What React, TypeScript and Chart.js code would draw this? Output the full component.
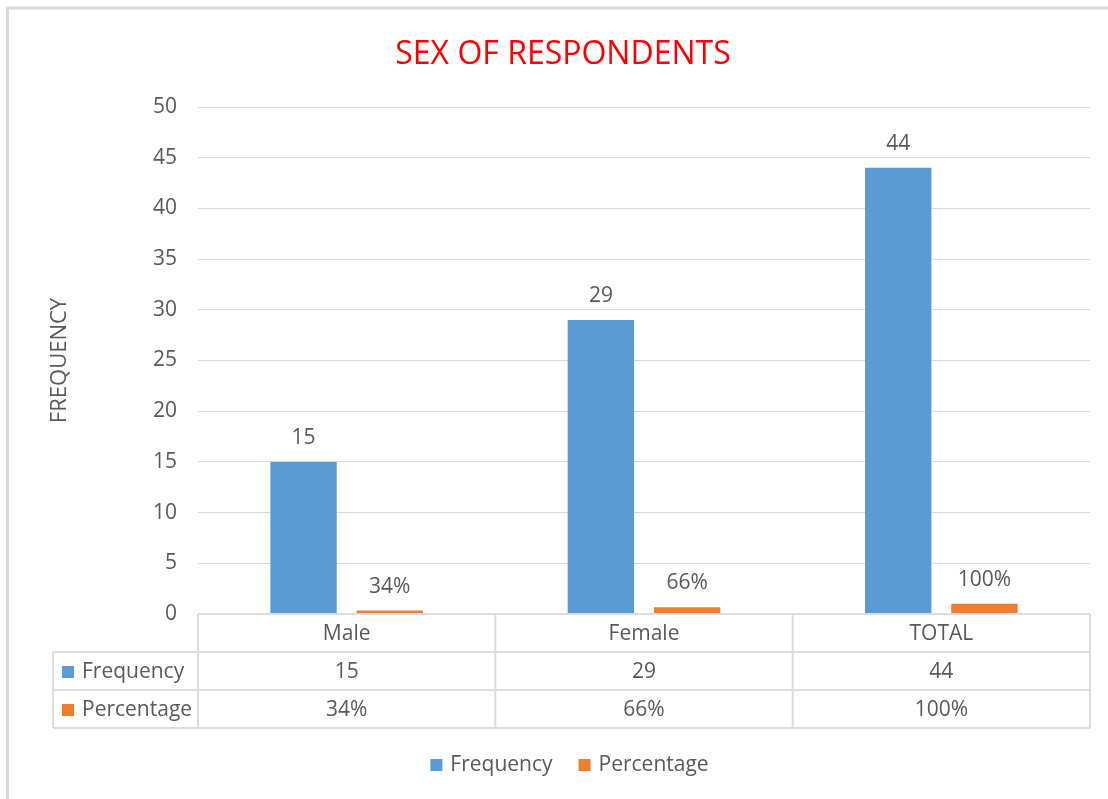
import React, { useEffect, useRef } from "react";
import { Chart, registerables } from "chart.js";

Chart.register(...registerables);

// ---- data ----
const categories = ["Male", "Female", "TOTAL"];
const seriesNames = ["Frequency", "Percentage"];
const frequency = [15, 29, 44];
const percentage = [0.34, 0.66, 1.0];
const yMin = 0;
const yMax = 50;
const yStep = 5;
const chartTitle = "SEX OF RESPONDENTS";
const yAxisTitle = "FREQUENCY";

// ---- style ----
const BLUE = "#5B9BD5";
const ORANGE = "#ED7D31";
const TEXT = "#595959";
const GRID = "#d9d9d9";
const TABLE_LINE = "#dcdcdc";
const FONT = "'Open Sans', 'DejaVu Sans', sans-serif";
const colors = [BLUE, ORANGE];
const formatters = [
  (v: number) => String(v),
  (v: number) => Math.round(v * 100) + "%",
];

const W = 1108;
const H = 799;

const decorPlugin = {
  id: "decor",
  beforeDraw(chart: any) {
    const ctx = chart.ctx;
    ctx.save();
    ctx.fillStyle = "#ffffff";
    ctx.fillRect(0, 0, chart.width, chart.height);
    ctx.strokeStyle = "#d9d9d9";
    ctx.lineWidth = 3;
    ctx.beginPath();
    ctx.moveTo(7.5, chart.height);
    ctx.lineTo(7.5, 8);
    ctx.lineTo(chart.width, 8);
    ctx.stroke();
    ctx.restore();
  },
  afterDatasetsDraw(chart: any) {
    const ctx = chart.ctx;
    ctx.save();
    ctx.font = `21px ${FONT}`;
    ctx.fillStyle = TEXT;
    ctx.textAlign = "center";
    ctx.textBaseline = "middle";
    chart.data.datasets.forEach((ds: any, di: number) => {
      const meta = chart.getDatasetMeta(di);
      meta.data.forEach((el: any, i: number) => {
        ctx.fillText(formatters[di](ds.data[i]), el.x, el.y - 24);
      });
    });
    ctx.restore();
  },
  afterDraw(chart: any) {
    const ctx = chart.ctx;
    const area = chart.chartArea;
    const xs = chart.scales.x;
    const top = area.bottom;
    const rowH = 38;
    const headLeft = 53;
    const left = area.left;
    const right = area.right;
    const n = categories.length;
    const bounds: number[] = [left];
    for (let i = 0; i < n - 1; i++) {
      bounds.push((xs.getPixelForValue(i) + xs.getPixelForValue(i + 1)) / 2);
    }
    bounds.push(right);
    const nRows = chart.data.datasets.length;
    const bottom = top + rowH * (nRows + 1);

    ctx.save();
    ctx.strokeStyle = TABLE_LINE;
    ctx.lineWidth = 2;
    ctx.beginPath();
    ctx.moveTo(left, top);
    ctx.lineTo(right, top);
    for (let r = 1; r <= nRows + 1; r++) {
      const y = top + rowH * r;
      ctx.moveTo(headLeft, y);
      ctx.lineTo(right, y);
    }
    bounds.forEach((b) => {
      ctx.moveTo(b, top);
      ctx.lineTo(b, bottom);
    });
    ctx.moveTo(headLeft, top + rowH);
    ctx.lineTo(headLeft, bottom);
    ctx.stroke();

    ctx.font = `21px ${FONT}`;
    ctx.fillStyle = TEXT;
    ctx.textBaseline = "middle";
    ctx.textAlign = "center";
    categories.forEach((c, i) => {
      ctx.fillText(c, xs.getPixelForValue(i), top + rowH / 2 + 1);
    });
    chart.data.datasets.forEach((ds: any, di: number) => {
      const yc = top + rowH * (di + 1) + rowH / 2 + 1;
      ctx.fillStyle = colors[di];
      ctx.fillRect(headLeft + 9, yc - 6, 12, 12);
      ctx.fillStyle = TEXT;
      ctx.textAlign = "left";
      ctx.fillText(ds.label, headLeft + 29, yc);
      ctx.textAlign = "center";
      ds.data.forEach((v: number, i: number) => {
        ctx.fillText(formatters[di](v), xs.getPixelForValue(i), yc);
      });
    });

    // legend
    const box = 12;
    const gap = 8;
    const spacing = 26;
    const widths = chart.data.datasets.map((ds: any) => ctx.measureText(ds.label).width);
    let total = 0;
    widths.forEach((w: number, i: number) => {
      total += box + gap + w + (i > 0 ? spacing : 0);
    });
    const legendCenter = (headLeft + right) / 2 - 2;
    const ly = 765;
    let lx = legendCenter - total / 2;
    ctx.textAlign = "left";
    chart.data.datasets.forEach((ds: any, di: number) => {
      ctx.fillStyle = colors[di];
      ctx.fillRect(lx, ly - 6, box, box);
      ctx.fillStyle = TEXT;
      ctx.fillText(ds.label, lx + box + gap, ly);
      lx += box + gap + widths[di] + spacing;
    });
    ctx.restore();
  },
};

export default function App() {
  const ref = useRef<HTMLCanvasElement | null>(null);

  useEffect(() => {
    if (!ref.current) return;
    const chart = new Chart(ref.current, {
      type: "bar",
      data: {
        labels: categories,
        datasets: [
          {
            label: seriesNames[0],
            data: frequency,
            backgroundColor: BLUE,
            categoryPercentage: 0.58,
            barPercentage: 0.77,
          },
          {
            label: seriesNames[1],
            data: percentage,
            backgroundColor: ORANGE,
            categoryPercentage: 0.58,
            barPercentage: 0.77,
          },
        ],
      },
      options: {
        responsive: false,
        animation: false,
        devicePixelRatio: 1,
        layout: { padding: { left: 36, right: 18, top: 0, bottom: 71 } },
        plugins: {
          legend: { display: false },
          tooltip: { enabled: false },
          title: {
            display: true,
            text: chartTitle,
            color: "#FF0000",
            font: { family: FONT, size: 32, weight: "normal" },
            padding: { top: 36, bottom: 32.6 },
          },
        },
        scales: {
          x: {
            offset: true,
            grid: { display: false },
            border: { display: false },
            ticks: { display: false },
            afterFit: (s: any) => {
              s.height = 114;
            },
          },
          y: {
            min: yMin,
            max: yMax,
            ticks: {
              stepSize: yStep,
              color: TEXT,
              font: { family: FONT, size: 21 },
              padding: 21,
            },
            grid: { color: GRID, lineWidth: 1, drawTicks: false },
            border: { display: false },
            title: {
              display: true,
              text: yAxisTitle,
              color: TEXT,
              font: { family: FONT, size: 22 },
              padding: { top: 11, bottom: 0 },
            },
            afterFit: (s: any) => {
              s.width = 162;
            },
          },
        },
      },
      plugins: [decorPlugin],
    } as any);
    return () => chart.destroy();
  }, []);

  return (
    <div style={{ position: "fixed", left: 0, top: 0, width: W, height: H, background: "#fff" }}>
      <canvas ref={ref} width={W} height={H} style={{ display: "block", width: W, height: H }} />
    </div>
  );
}
